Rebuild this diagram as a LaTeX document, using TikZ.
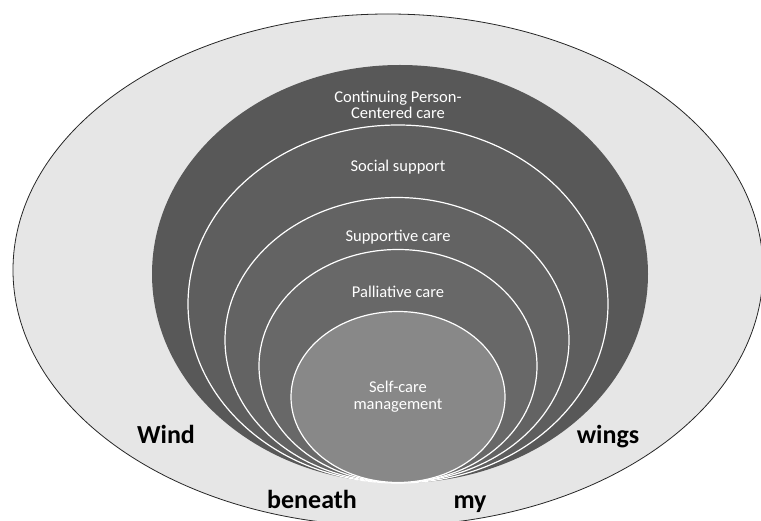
\documentclass[tikz,border=0pt]{standalone}
\usepackage{fontspec}
\setmainfont{Carlito}
\usepackage{tikz}
\usetikzlibrary{shapes.geometric}
\definecolor{windgray}{HTML}{E6E6E6}
\definecolor{carecol}{HTML}{585858}
\definecolor{socialcol}{HTML}{5E5E5E}
\definecolor{supportcol}{HTML}{636363}
\definecolor{palliacol}{HTML}{686868}
\definecolor{selfcol}{HTML}{888888}

\begin{document}
\begin{tikzpicture}[
    x=1pt, y=-1pt,
    layer/.style={ellipse, inner sep=0pt, draw=white, line width=1.2pt},
    tag/.style={text=white, font=\fontsize{16.5}{16}\selectfont, align=center},
    wordlbl/.style={font=\bfseries\fontsize{26}{28}\selectfont, text=black, anchor=base}
]
\useasboundingbox (0,0) rectangle (761,521);

% the wind around everything
\node[ellipse, inner sep=0pt, draw=black!85, line width=0.8pt, fill=windgray, minimum width=750pt, minimum height=512pt] (wind) at (388,270) {};

% nested care layers, all touching at the bottom
\node[ellipse, inner sep=0pt, fill=carecol, minimum width=496pt, minimum height=418pt] (care) at (400,274) {};
\node[layer, fill=socialcol, minimum width=420pt, minimum height=358pt] (social) at (398,304) {};
\node[layer, fill=supportcol, minimum width=344pt, minimum height=285pt] (support) at (397,340) {};
\node[layer, fill=palliacol, minimum width=278pt, minimum height=233pt] (pallia) at (398,366) {};
\node[layer, fill=selfcol, minimum width=214pt, minimum height=171pt] (self) at (398,397) {};

\node[tag] (caretxt) at (398,105) {Continuing Person-\\Centered care};
\node[tag] (socialtxt) at (398,167) {Social support};
\node[tag] (supporttxt) at (398,237) {Supportive care};
\node[tag] (palliatxt) at (398,292) {Palliative care};
\node[tag, font=\fontsize{16.5}{17}\selectfont] (selftxt) at (398,397) {Self-care\\management};

\node[wordlbl] (w1) at (166,444) {Wind};
\node[wordlbl] (w2) at (312,508) {beneath};
\node[wordlbl] (w3) at (470,508) {my};
\node[wordlbl] (w4) at (608,444) {wings};

\end{tikzpicture}
\end{document}
